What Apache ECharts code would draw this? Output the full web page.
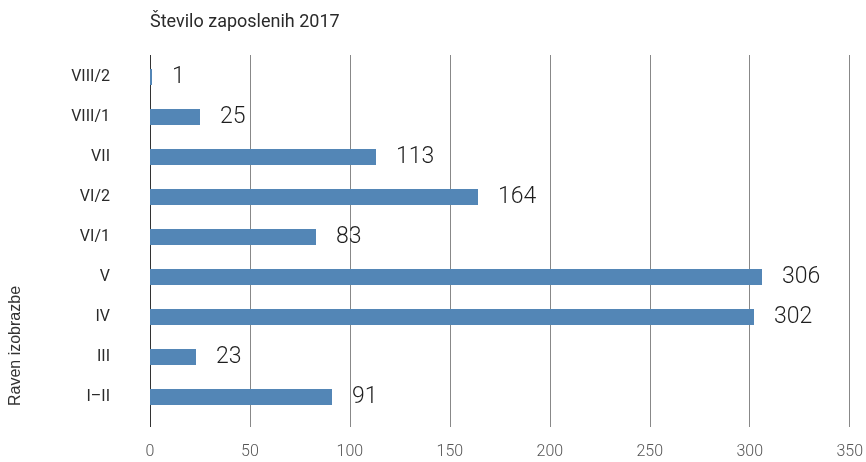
<!DOCTYPE html>
<html>
<head>
<meta charset="utf-8">
<script src="https://cdn.jsdelivr.net/npm/echarts@6/dist/echarts.min.js"></script>
<style>
html,body{margin:0;padding:0;background:#fff;}
#chart{width:866px;height:462px;}
</style>
</head>
<body>
<div id="chart"></div>
<script>
const categories = ['I–II', 'III', 'IV', 'V', 'VI/1', 'VI/2', 'VII', 'VIII/1', 'VIII/2'];
const values = [91, 23, 302, 306, 83, 164, 113, 25, 1];
const xTicks = [0, 50, 100, 150, 200, 250, 300, 350];
const titleText = 'Število zaposlenih 2017';
const yAxisTitle = 'Raven izobrazbe';

const FONT = 'Roboto, "Liberation Sans", sans-serif';
const chart = echarts.init(document.getElementById('chart'), null, {renderer: 'canvas'});
chart.setOption({
  animation: false,
  title: {
    text: titleText,
    left: 145, top: 8,
    textStyle: {fontFamily: FONT, fontSize: 18, fontWeight: 'normal', color: '#2a2a2a'}
  },
  graphic: [{
    type: 'text',
    x: 16, y: 346,
    rotation: Math.PI / 2,
    style: {
      text: yAxisTitle,
      fontFamily: '"Liberation Sans", Arial, sans-serif',
      fontSize: 16,
      fill: '#333',
      align: 'center',
      verticalAlign: 'middle'
    }
  }],
  grid: [
    {left: 150, width: 700, top: 57, height: 360, containLabel: false},
    {left: 150, width: 700, top: 55, height: 372, containLabel: false}
  ],
  xAxis: [
    {gridIndex: 0, type: 'value', min: 0, max: 350, interval: 50, show: false},
    {
      gridIndex: 1, type: 'value', min: 0, max: 350, interval: 50,
      axisLine: {show: false}, axisTick: {show: false},
      splitLine: {show: true, lineStyle: {color: ['#333', '#888', '#888', '#888', '#888', '#888', '#888', '#888'], width: 1}},
      axisLabel: {
        margin: 17, color: '#555', fontFamily: FONT, fontSize: 16, fontWeight: 300,
        formatter: function (v) { return xTicks.indexOf(v) >= 0 ? String(v) : ''; }
      }
    }
  ],
  yAxis: [
    {
      gridIndex: 0, type: 'category', data: categories,
      axisLine: {show: false}, axisTick: {show: false}, splitLine: {show: false},
      axisLabel: {margin: 40, color: '#2a2a2a', fontFamily: FONT, fontSize: 16}
    },
    {gridIndex: 1, type: 'value', min: 0, max: 1, show: false}
  ],
  series: [{
    type: 'bar',
    xAxisIndex: 0, yAxisIndex: 0,
    data: values,
    barWidth: 16,
    itemStyle: {color: '#5386b6'},
    z: 3,
    label: {
      show: true, position: 'right', distance: 20,
      fontFamily: FONT, fontSize: 23, fontWeight: 300, color: '#1e1e1e'
    }
  }]
});
</script>
</body>
</html>
